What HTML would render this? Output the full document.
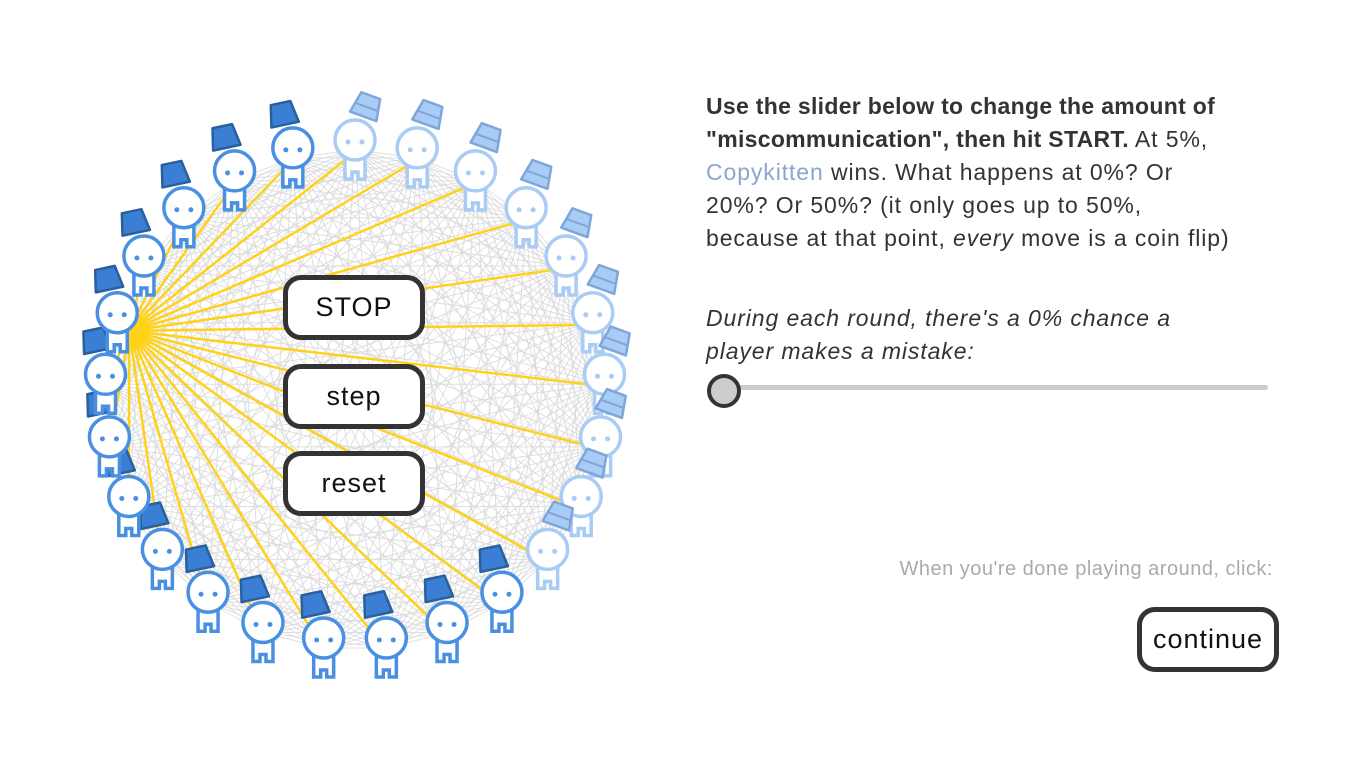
<!DOCTYPE html>
<html><head><meta charset="utf-8">
<style>
body{margin:0;width:1357px;height:762px;background:#fff;overflow:hidden;font-family:"Liberation Sans",sans-serif;position:relative}
svg{position:absolute;left:0;top:0}
.btn{position:absolute;border:5px solid #333;border-radius:18px;background:#fff;font-size:27px;color:#111;text-align:center;box-sizing:border-box;letter-spacing:1px}
.txt{position:absolute;left:706px;top:90px;width:640px;font-size:23px;line-height:33px;color:#333;letter-spacing:0.9px;white-space:nowrap}
</style></head><body>
<svg id="s" width="1357" height="762"></svg>
<div class="btn" style="left:283px;top:275px;width:142px;height:65px;line-height:55px">STOP</div>
<div class="btn" style="left:283px;top:364px;width:142px;height:65px;line-height:55px">step</div>
<div class="btn" style="left:283px;top:451px;width:142px;height:65px;line-height:55px">reset</div>
<div class="txt"><b style="letter-spacing:0.3px">Use the slider below to change the amount of<br>"miscommunication", then hit START.</b> At 5%,<br><span style="color:#8aa6d0">Copykitten</span> wins. What happens at 0%? Or<br>20%? Or 50%? (it only goes up to 50%,<br>because at that point, <i>every</i> move is a coin flip)</div>
<div class="txt" style="top:302px;font-style:italic">During each round, there's a 0% chance a<br>player makes a mistake:</div>
<div style="position:absolute;left:722px;top:385px;width:546px;height:5px;background:#ccc;border-radius:3px"></div>
<div style="position:absolute;left:707px;top:374px;width:26px;height:26px;border:4px solid #333;border-radius:50%;background:#ccc;box-sizing:content-box"></div>
<div style="position:absolute;left:820px;top:558px;width:453px;text-align:right;font-size:20px;color:#aaa;letter-spacing:0.5px">When you're done playing around, click:</div>
<div class="btn" style="left:1137px;top:607px;width:142px;height:65px;line-height:55px">continue</div>
<script>
const s=document.getElementById('s');let h='';
const cx=355,cy=390,R=250,N=25;const P=[];
for(let i=0;i<N;i++){const a=(-90+14.4*i)*Math.PI/180;P.push([cx+R*Math.cos(a),cy+R*Math.sin(a),i<10]);}
for(let i=0;i<N;i++)for(let j=i+1;j<N;j++)h+=`<line x1="${P[i][0]}" y1="${P[i][1]+10}" x2="${P[j][0]}" y2="${P[j][1]+10}" stroke="#d8d8d8" stroke-width="1" opacity="0.8"/>`;
const f=P[20];
for(let i=0;i<N;i++)if(i!=20)h+=`<line x1="${f[0]+12}" y1="${f[1]+18}" x2="${P[i][0]}" y2="${P[i][1]+12}" stroke="#ffd21a" stroke-width="2.5"/>`;
for(let i=0;i<N;i++){const [x,y,l]=P[i];const c=l?'#a8ccf5':'#4a90e2';const hf=l?'#a8ccf5':'#3b7fd4';const hs=l?'#7fa6d8':'#2a5f9e';
const hx=l?x+12:x-10,rot=l?20:-12;
h+=`<path d="M${x-10} ${y+18} V${y+39} H${x-3} V${y+32} H${x+3} V${y+39} H${x+10} V${y+18}Z" fill="#fff" stroke="${c}" stroke-width="3.5"/>`;
h+=`<circle cx="${x}" cy="${y}" r="20" fill="#fff" stroke="${c}" stroke-width="3.5"/>`;
h+=`<circle cx="${x-7}" cy="${y+2}" r="2.5" fill="${c}"/><circle cx="${x+7}" cy="${y+2}" r="2.5" fill="${c}"/>`;
h+=`<g transform="translate(${hx},${y-34}) rotate(${rot})"><path d="M-10 -11 H10 L14 11 H-14Z" fill="${hf}" stroke="${hs}" stroke-width="2.5" stroke-linejoin="round"/>${l?'<line x1="-12" y1="1" x2="12" y2="1" stroke="'+hs+'" stroke-width="2"/>':''}</g>`;}
s.innerHTML=h;
</script>
</body></html>
